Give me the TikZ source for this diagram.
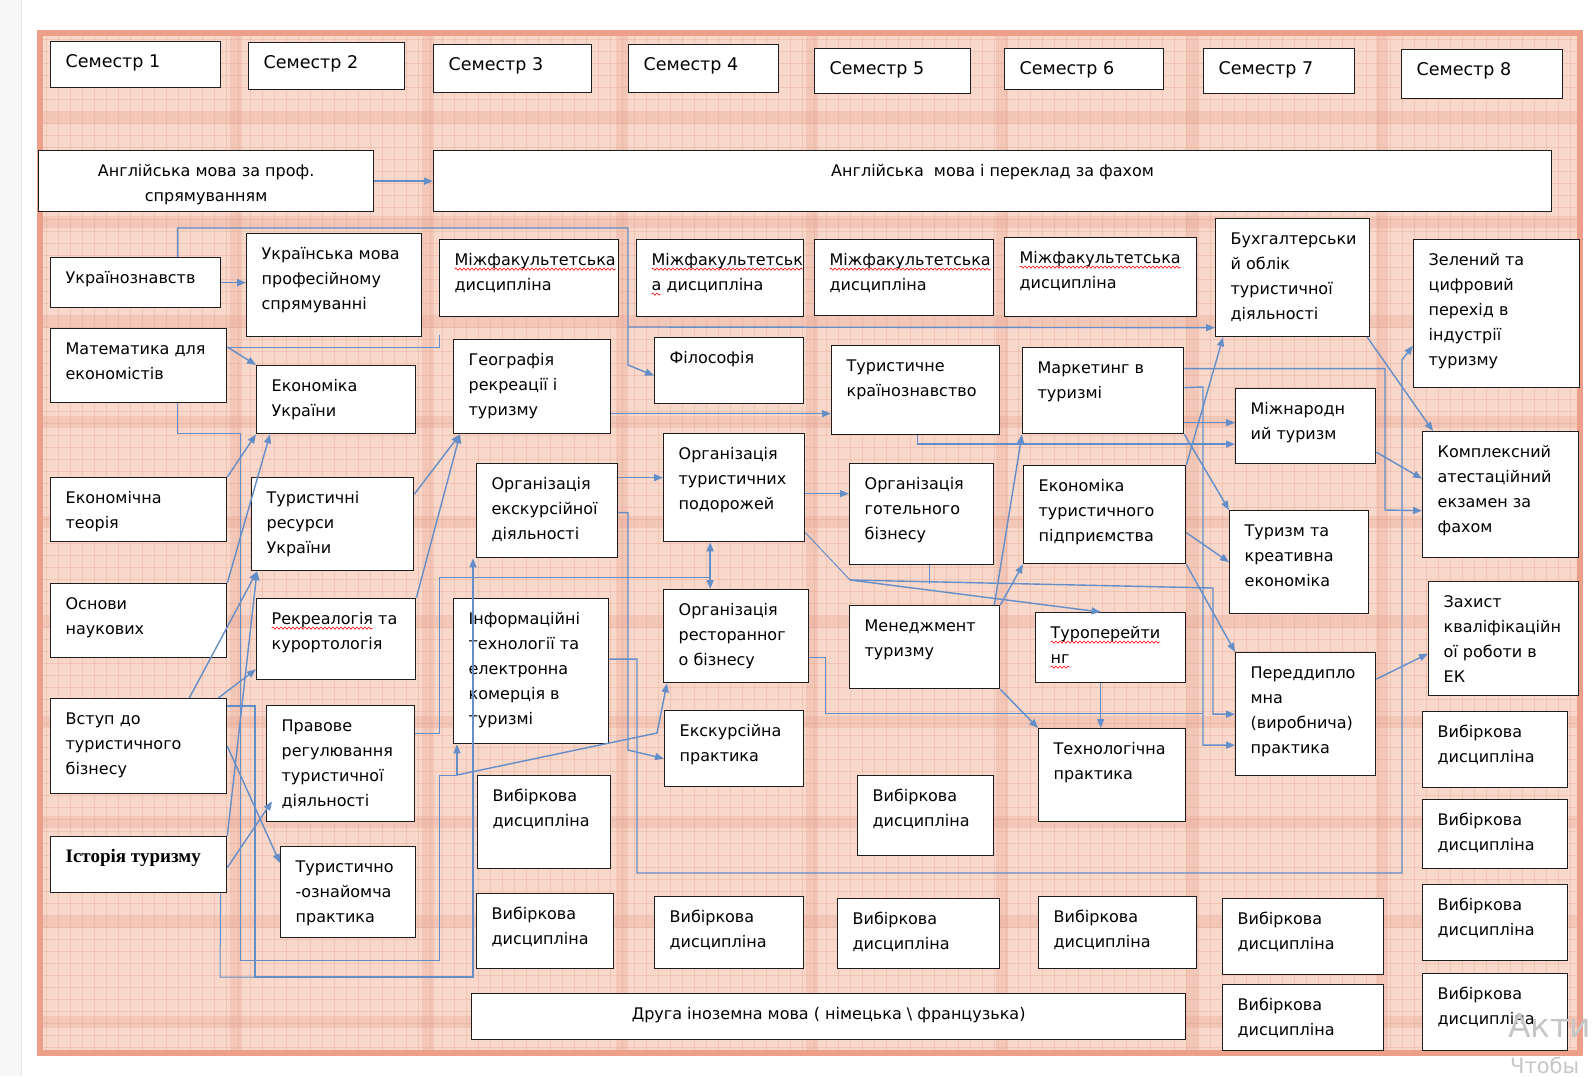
\documentclass[tikz,border=0pt]{standalone}
\usepackage{fontspec}
\setmainfont{DejaVu Sans}
\newfontfamily\histfont{Liberation Serif}
\usetikzlibrary{arrows.meta,decorations.pathmorphing}

\definecolor{linkblue}{RGB}{100,142,200}
\definecolor{plaidbase}{RGB}{248,216,203}
\definecolor{plaidline}{RGB}{228,150,128}
\definecolor{framered}{RGB}{236,160,138}
\definecolor{boxline}{RGB}{30,30,30}

% red spell-check wave under a word
\newsavebox{\spellbox}
\newcommand{\spell}[1]{\leavevmode\sbox{\spellbox}{#1}\rlap{\tikz[overlay]\draw[red, line width=0.6pt, decorate, decoration={snake, amplitude=1.1pt, segment length=4pt}] (0pt,-3.5pt) -- (\the\wd\spellbox,-3.5pt);}\usebox{\spellbox}}
\newcommand{\lpad}{\raggedright\leftskip=15pt\relax}
\newcommand{\semsize}{\fontsize{17.5}{25}\selectfont}

% course box: [format]{name}{x1}{y1}{x2}{y2}{text}
\newcommand{\course}[7][\lpad]{%
  \pgfmathsetmacro{\cellw}{#5-#3}%
  \pgfmathsetmacro{\cellh}{#6-#4}%
  \node[cellbox] (#2) at (#3,#4) {\parbox[c][\cellh pt][t]{\cellw pt}{#1\rule{0pt}{26pt}#7}};%
}

\begin{document}
\begin{tikzpicture}[x=1pt, y=-1pt,
  cellbox/.style={draw=boxline, line width=1.3pt, fill=white, inner sep=0pt,
    anchor=north west, font=\fontsize{16}{25}\selectfont},
  conn/.style={draw=linkblue, line width=1pt},
  arr/.style={conn, line width=1.4pt, -{Triangle[length=9pt,width=7pt]}},
  arrb/.style={conn, line width=1.4pt, {Triangle[length=9pt,width=7pt]}-{Triangle[length=9pt,width=7pt]}},
  plaid/.style={plaidline, line width=0.8pt, opacity=0.3},
  band/.style={plaidline, opacity=0.25}]
\useasboundingbox (0,0) rectangle (1592,1076);
\clip (0,0) rectangle (1592,1076);

% page and plaid background
\fill[gray!6] (0,0) rectangle (21,1076);
\draw[gray!20] (21,0) -- (21,1076);
\fill[plaidbase] (40,33) rectangle (1580,1053);
\foreach \x in {46,58,...,1578} \draw[plaid] (\x,33) -- (\x,1053);
\foreach \y in {39,51,...,1051} \draw[plaid] (40,\y) -- (1580,\y);
\foreach \x in {236,428,622,812,1002,1192,1382} \fill[band] ({\x-6},33) rectangle ({\x+6},1053);
\foreach \y in {118,222,322,422,522,622,722,822,922,1022} \fill[band] (40,{\y-6}) rectangle (1580,{\y+6});
\draw[framered, line width=6pt] (40,33) rectangle (1580,1053);

% semesters
\course[\lpad\semsize]{sem1}{50}{41}{220}{87}{Семестр 1}
\course[\lpad\semsize]{sem2}{248}{42}{404}{89}{Семестр 2}
\course[\lpad\semsize]{sem3}{433}{44}{591}{92}{Семестр 3}
\course[\lpad\semsize]{sem4}{628}{44}{778}{92}{Семестр 4}
\course[\lpad\semsize]{sem5}{814}{48}{970}{93}{Семестр 5}
\course[\lpad\semsize]{sem6}{1004}{48}{1163}{89}{Семестр 6}
\course[\lpad\semsize]{sem7}{1203}{48}{1354}{93}{Семестр 7}
\course[\lpad\semsize]{sem8}{1401}{49}{1562}{98}{Семестр 8}

% english
\course[\centering]{engprof}{38}{150}{373}{211}{Англійська мова за проф.\\спрямуванням}
\course[\centering]{engtrans}{433}{150}{1551}{211}{Англійська\ \ мова і переклад за фахом}

% semester 1
\course{ukrst}{50}{257}{220}{307}{Українознавств}
\course{math}{50}{328}{226}{402}{Математика для\\економістів}
\course{econth}{50}{477}{226}{541}{Економічна\\теорія}
\course{science}{50}{583}{226}{657}{Основи\\наукових}
\course{intro}{50}{698}{226}{793}{Вступ до\\туристичного\\бізнесу}
\course[\lpad\histfont\bfseries\fontsize{19}{25}\selectfont]{hist}{50}{836}{226}{892}{Історія туризму}

% semester 2
\course{ukrlang}{246}{233}{421}{336}{Українська мова\\професійному\\спрямуванні}
\course{econua}{256}{365}{415}{433}{Економіка\\України}
\course{tourres}{251}{477}{413}{570}{Туристичні\\ресурси\\України}
\course{recre}{256}{598}{415}{679}{\spell{Рекреалогія} та\\курортологія}
\course{law}{266}{705}{414}{821}{Правове\\регулювання\\туристичної\\діяльності}
\course{famil}{280}{846}{415}{937}{Туристично\\-ознайомча\\практика}

% semester 3
\course{mf3}{439}{239}{618}{316}{\spell{Міжфакультетська}\\дисципліна}
\course{geo}{453}{339}{610}{433}{Географія\\рекреації і\\туризму}
\course{orgexc}{476}{463}{617}{557}{Організація\\екскурсійної\\діяльності}
\course{infotech}{453}{598}{608}{743}{Інформаційні\\технології та\\електронна\\комерція в\\туризмі}
\course{el3a}{477}{775}{610}{868}{Вибіркова\\дисципліна}
\course{el3b}{476}{893}{613}{968}{Вибіркова\\дисципліна}

% semester 4
\course{mf4}{636}{239}{803}{316}{\spell{Міжфакультетськ}\\\spell{а} дисципліна}
\course{phil}{654}{337}{803}{403}{Філософія}
\course{orgtrip}{663}{433}{804}{541}{Організація\\туристичних\\подорожей}
\course{orgrest}{663}{589}{808}{682}{Організація\\ресторанног\\о бізнесу}
\course{excprac}{664}{710}{803}{786}{Екскурсійна\\практика}
\course{el4}{654}{896}{803}{968}{Вибіркова\\дисципліна}
\course[\centering]{lang2}{471}{993}{1185}{1039}{Друга іноземна мова ( німецька \textbackslash\ французька)}

% semester 5
\course{mf5}{814}{239}{993}{315}{\spell{Міжфакультетська}\\дисципліна}
\course{country}{831}{345}{999}{434}{Туристичне\\країнознавство}
\course{orghotel}{849}{463}{993}{564}{Організація\\готельного\\бізнесу}
\course{mgmt}{849}{605}{999}{688}{Менеджмент\\туризму}
\course{el5a}{857}{775}{993}{855}{Вибіркова\\дисципліна}
\course{el5b}{837}{898}{999}{968}{Вибіркова\\дисципліна}

% semester 6
\course{mf6}{1004}{237}{1196}{316}{\spell{Міжфакультетська}\\дисципліна}
\course{market}{1022}{347}{1183}{433}{Маркетинг в\\туризмі}
\course{econent}{1023}{465}{1185}{563}{Економіка\\туристичного\\підприємства}
\course{touroper}{1035}{612}{1185}{682}{\spell{Туроперейти}\\\spell{нг}}
\course{techprac}{1038}{728}{1185}{821}{Технологічна\\практика}
\course{el6}{1038}{896}{1196}{968}{Вибіркова\\дисципліна}

% semester 7
\course{account}{1215}{218}{1369}{336}{Бухгалтерськи\\й облік\\туристичної\\діяльності}
\course{intl}{1235}{388}{1375}{463}{Міжнародн\\ий туризм}
\course{creative}{1229}{510}{1368}{613}{Туризм та\\креативна\\економіка}
\course{predip}{1235}{652}{1375}{775}{Переддипло\\мна\\(виробнича)\\практика}
\course{el7a}{1222}{898}{1383}{974}{Вибіркова\\дисципліна}
\course{el7b}{1222}{984}{1383}{1050}{Вибіркова\\дисципліна}

% semester 8
\course{green}{1413}{239}{1579}{387}{Зелений та\\цифровий\\перехід в\\індустрії\\туризму}
\course{exam}{1422}{431}{1578}{557}{Комплексний\\атестаційний\\екзамен за\\фахом}
\course{thesis}{1428}{581}{1578}{695}{Захист\\кваліфікаційн\\ої роботи в\\ЕК}
\course{el8a}{1422}{711}{1567}{787}{Вибіркова\\дисципліна}
\course{el8b}{1422}{799}{1567}{868}{Вибіркова\\дисципліна}
\course{el8c}{1422}{884}{1567}{960}{Вибіркова\\дисципліна}
\course{el8d}{1422}{973}{1567}{1050}{Вибіркова\\дисципліна}

% links, left part
\draw[arr] (engprof.east) -- (engtrans.west);
\draw[arr] (ukrst.east) -- (ukrst.east -| ukrlang.west);
\draw[arr] ([xshift=42pt]ukrst.north) -- ++(0,-29) -| (628,365) -- ([yshift=-5pt]phil.west);
\draw[arr] (628,327) -- ([yshift=-50pt]account.west);
\draw[arr] ([yshift=-19pt]math.north east) -- (econua.north west);
\draw[conn] ([yshift=-19pt]math.north east) -- (439,347) -- (439,335);
\coordinate (split) at (457,775);
\draw[conn] ([xshift=39pt]math.south) |- (240,433) |- (439,960) |- (split);
\draw[arr] (split) -- ([xshift=4pt]infotech.south west);
\draw[arr] (split) -- (657,733) -- ([xshift=4pt]orgrest.south west);
\draw[arr] (econth.north east) -- (econua.south west);
\draw[arr] (science.north east) -- ([xshift=14pt]econua.south west);
\draw[arr] ([xshift=-38pt]intro.north east) -- ([xshift=6pt]tourres.south west);
\draw[arr] (hist.north east) -- ([xshift=6pt]tourres.south west);
\draw[arr] ([xshift=-9pt]intro.north east) -- ([yshift=11pt]recre.south west);
\draw[arr] ([yshift=30pt]tourres.east) -- ([xshift=7pt]geo.south west);
\draw[arr] (recre.north east) -- ([xshift=7pt]geo.south west);
\draw[arr] ([yshift=-3pt]hist.east) -- ([xshift=6pt,yshift=21pt]law.south west);
\draw[arr] (intro.east) -- ([yshift=-17pt]famil.north west);
\draw[arr] ([yshift=40pt]intro.east) -| (255,977) -| ([xshift=-3pt]orgexc.south west);
\draw[conn] ([xshift=82pt]hist.south) -- (220,977) -- (255,977);
\draw[conn] ([yshift=30pt]law.east) -| (439,577) -- (709,577);

% links, middle part
\draw[arr] ([yshift=-27pt]geo.east) -- ([yshift=-27pt]geo.east -| country.west);
\draw[arr] ([yshift=33pt]orgexc.east) -- ([yshift=33pt]orgexc.east -| orgtrip.west);
\draw[arrb] ([xshift=-24pt]orgtrip.south) -- ([xshift=-24pt]orgtrip.south |- orgrest.north);
\draw[arr] ([yshift=-2pt]orgexc.east) -| (628,750) -- ([yshift=-10pt]excprac.west);
\draw[arr] ([yshift=12pt]infotech.east) -| (637,873) -| (1402,360) -- ([yshift=-32pt]green.west);
\draw[arr] ([yshift=-6pt]orgtrip.east) -- ([yshift=-6pt]orgtrip.east -| orghotel.west);
\coordinate (hub) at (850,580);
\draw[conn] ([yshift=-45pt]orgtrip.east) -- (hub);
\draw[arr] (hub) -- ([xshift=-10pt]touroper.north);
\draw[arr] (hub) -- (1213,588) |- (predip.west);
\draw[conn] ([xshift=8pt]orghotel.south) -- ++(0,19);
\draw[conn] ([yshift=-21pt]orgrest.east) -| (825,713) -- (1203,713);
\draw[arr] ([xshift=-6pt]mgmt.north east) -- (market.south west);
\draw[arr] (mgmt.north east) -- (econent.south west);
\draw[arr] (mgmt.south east) -- (techprac.north west);
\draw[arr] ([xshift=-10pt]touroper.south) -- ([xshift=-10pt]touroper.south |- techprac.north);
\draw[arr] ([xshift=2pt]country.south) |- ([yshift=-18pt]intl.west);

% links, right part
\draw[arr] ([yshift=3pt]market.east) -- (1203,387) |- ([yshift=-31pt]predip.west);
\draw[arr] ([yshift=-32pt]market.east) -- ([yshift=-32pt]market.east -| intl.west);
\draw[arr] (market.south east) -- (creative.north west);
\draw[arr] ([yshift=-18pt]econent.east) -- (creative.west);
\draw[arr] (econent.south east) -- (predip.north west);
\draw[arr] (econent.north east) -- ([xshift=8pt]account.south west);
\draw[arr] ([xshift=-3pt]account.south east) -- ([xshift=11pt]exam.north west);
\draw[arr] ([yshift=-26pt]intl.east) -- ([yshift=16pt]exam.west);
\draw[arr] ([yshift=22pt]market.east) -| (1385,510) -- ([yshift=-16pt]exam.west);
\draw[arr] ([yshift=35pt]predip.east) -- ([yshift=-15pt]thesis.west);

% screen watermark
\node[anchor=base west, inner sep=0pt, text=gray!45, font=\fontsize{33}{33}\selectfont] (wmark) at (1508,1037) {Акти};
\node[anchor=base west, inner sep=0pt, text=gray!45, font=\fontsize{21}{21}\selectfont] (wnote) at (1510,1073) {Чтобы};
\end{tikzpicture}
\end{document}
